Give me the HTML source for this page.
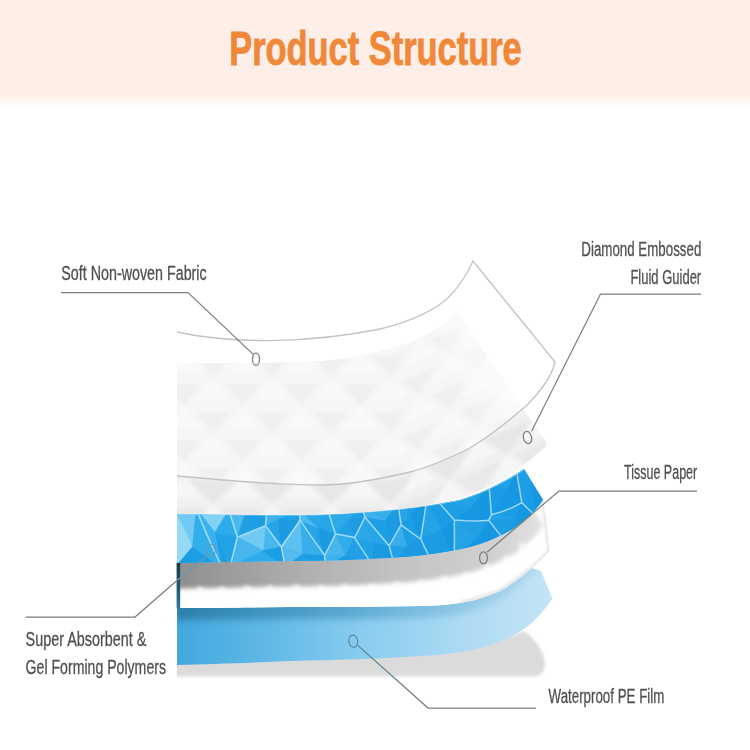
<!DOCTYPE html>
<html>
<head>
<meta charset="utf-8">
<title>Product Structure</title>
<style>
  html, body { margin: 0; padding: 0; background: #ffffff; }
  body { width: 750px; height: 750px; overflow: hidden; position: relative;
         font-family: "Liberation Sans", sans-serif; }
  svg { position: absolute; left: 0; top: 0; display: block; }
  text { font-family: "Liberation Sans", sans-serif; }
</style>
</head>
<body>
<svg width="750" height="750" viewBox="0 0 750 750">
  <defs>
    <linearGradient id="banner" x1="0" y1="0" x2="0" y2="1">
      <stop offset="0" stop-color="#fdefe7"/>
      <stop offset="0.875" stop-color="#fdefe7"/>
      <stop offset="0.93" stop-color="#fef6f1"/>
      <stop offset="1" stop-color="#ffffff"/>
    </linearGradient>
    <filter id="blur2" x="-10%" y="-40%" width="120%" height="180%">
      <feGaussianBlur stdDeviation="2"/>
    </filter>
    <filter id="blur1" x="-10%" y="-40%" width="120%" height="180%">
      <feGaussianBlur stdDeviation="1"/>
    </filter>
    <filter id="blur05" x="-5%" y="-10%" width="110%" height="120%">
      <feGaussianBlur stdDeviation="0.5"/>
    </filter>
    <filter id="blur15" x="-5%" y="-5%" width="110%" height="110%">
      <feGaussianBlur stdDeviation="1.6"/>
    </filter>
    <filter id="blur07" x="-5%" y="-20%" width="110%" height="140%">
      <feGaussianBlur stdDeviation="0.7"/>
    </filter>
    <filter id="blur4" x="-10%" y="-60%" width="120%" height="220%">
      <feGaussianBlur stdDeviation="3.5"/>
    </filter>

    <!-- PE film gradient (left saturated -> right pale) -->
    <linearGradient id="pe" gradientUnits="userSpaceOnUse" x1="177" y1="0" x2="552" y2="0">
      <stop offset="0" stop-color="#42a8de"/>
      <stop offset="0.25" stop-color="#62b9e7"/>
      <stop offset="0.5" stop-color="#8acdef"/>
      <stop offset="0.75" stop-color="#abdaf3"/>
      <stop offset="1" stop-color="#c5e4f6"/>
    </linearGradient>
    <!-- tissue shadow strength left -> right -->
    <linearGradient id="tsh" gradientUnits="userSpaceOnUse" x1="177" y1="0" x2="545" y2="0">
      <stop offset="0" stop-color="#8e8e8e"/>
      <stop offset="0.12" stop-color="#9a9a9a"/>
      <stop offset="0.35" stop-color="#b0b0b0"/>
      <stop offset="0.6" stop-color="#c3c3c3"/>
      <stop offset="0.85" stop-color="#d0d0d0"/>
      <stop offset="1" stop-color="#e2e2e2"/>
    </linearGradient>
    <linearGradient id="pesh" gradientUnits="userSpaceOnUse" x1="177" y1="0" x2="545" y2="0">
      <stop offset="0" stop-color="#236f98" stop-opacity="0.75"/>
      <stop offset="0.5" stop-color="#3b8fbd" stop-opacity="0.55"/>
      <stop offset="1" stop-color="#7fb8d8" stop-opacity="0.25"/>
    </linearGradient>

    <linearGradient id="s2fade" gradientUnits="userSpaceOnUse" x1="455" y1="400" x2="535" y2="345">
      <stop offset="0" stop-color="#ffffff" stop-opacity="0"/>
      <stop offset="0.6" stop-color="#ffffff" stop-opacity="0.6"/>
      <stop offset="1" stop-color="#ffffff" stop-opacity="0.85"/>
    </linearGradient>
    <linearGradient id="edge" x1="0" y1="0" x2="0" y2="1">
      <stop offset="0" stop-color="#143844"/>
      <stop offset="0.5" stop-color="#1f566c"/>
      <stop offset="1" stop-color="#2c7c9e"/>
    </linearGradient>
    <!-- diamond emboss pattern -->
    <pattern id="dia" x="183.5" y="378" width="59" height="56" patternUnits="userSpaceOnUse">
      <rect width="59" height="56" fill="#f6f6f6"/>
      <path d="M29.5,56 L12,34 L47,34 Z" fill="#f0f0f0"/>
      <path d="M0,28 L-17.5,6 L17.5,6 Z M59,28 L41.5,6 L76.5,6 Z" fill="#f0f0f0"/>
      <path d="M29.5,0 L12,22 L47,22 Z" fill="#f9f9f9"/>
      <path d="M0,28 L-17.5,50 L17.5,50 Z M59,28 L41.5,50 L76.5,50 Z" fill="#f9f9f9"/>
    </pattern>
    <pattern id="dia2" x="183.5" y="392" width="59" height="56" patternUnits="userSpaceOnUse">
      <rect width="59" height="56" fill="#f0f0f0"/>
      <path d="M29.5,56 L6,32 L53,32 Z" fill="#e7e7e7"/>
      <path d="M0,28 L-23.5,4 L23.5,4 Z M59,28 L35.5,4 L82.5,4 Z" fill="#e9e9e9"/>
      <path d="M29.5,0 L12,22 L47,22 Z" fill="#f6f6f6"/>
      <path d="M0,28 L-17.5,50 L17.5,50 Z M59,28 L41.5,50 L76.5,50 Z" fill="#f6f6f6"/>
    </pattern>

    <!-- shapes -->
    <path id="sheet1" d="M177,332 C195,336 225,340 260,340.5 C300,341 345,336 380,329 C405,323 428,313 442,303 C456,292 466,276 473,261 L555,362 C552,376 540,392 526,406 C510,420 490,436 470,448 C450,458 430,467 410,472 C385,478 350,485 320,485 C280,485 220,480 177,476 Z"/>
    <path id="sheet2" d="M177,363 C220,363.5 265,363.5 300,362 C325,361 340,359.5 355,357 C366,355 375,353 383,350.5 C393,347.5 403,345.5 411,342.5 C422,338 432,332 443,325 C449,320 453,316 456,311 L545,441 Q548,445 544,448 C537,454 530,460 520,468 C505,479 485,489 460,498 C440,504 420,507 400,509 C370,512 330,515 290,515 C250,515 210,514 177,514 Z"/>
    <path id="gel" d="M177,514 C210,514 250,515 290,515 C330,515 370,512 400,509 C420,507 440,504 460,500 C480,494 505,482 524,469 L543,500 C536,510 528,518 520,524 C508,533 492,540 480,544 C462,550 440,553 420,555.5 C395,558 340,561 290,561 C250,561.5 210,562.5 177,563 Z"/>
    <path id="tissue" d="M180,563 C210,562.5 250,561.5 290,561 C340,561 395,558 420,555.5 C440,553 462,550 480,544 C492,540 508,533 520,524 C528,518 536,510 543,501 C546,515 548,535 549.5,551 C544,557 538,563 532,568 C524,575 512,584 500,591 C488,596 474,601 460,603 C447,605 433,606 420,606 C380,607 330,607 290,607 C250,607.5 210,608 180,608 Z"/>
    <path id="pefilm" d="M177,608 C210,608 250,607.5 290,607 C330,607 380,607 420,606 C433,606 447,605 460,603 C474,601 488,596 500,591 C512,584 524,575 532,568 L541,571 L552.5,599 C547,606 541,614 533,622 C525,629 515,635 506,639 C497,643 488,646 480,648 C470,651 462,652 453,653 C440,655 432,655.5 420,656 C380,659 330,660 290,661 C250,663 210,664 177,665 Z"/>
    <clipPath id="cGround"><rect x="176.8" y="600" width="400" height="100"/></clipPath>
    <clipPath id="cGel"><use href="#gel"/></clipPath>
    <clipPath id="cTissue"><use href="#tissue"/></clipPath>
    <clipPath id="cPe"><use href="#pefilm"/></clipPath>
    <clipPath id="cS2"><use href="#sheet2"/></clipPath>
    <clipPath id="cS1"><use href="#sheet1"/></clipPath>
    
  </defs>

  <!-- header banner -->
  <rect x="0" y="0" width="750" height="108" fill="url(#banner)"/>
  <text x="229.2" y="65.4" font-size="48" font-weight="bold" fill="#f0883a" stroke="#f0883a" stroke-width="0.9" textLength="292.5" lengthAdjust="spacingAndGlyphs">Product Structure</text>

  <!-- ground shadow -->
  <g clip-path="url(#cGround)"><path d="M170,660 L420,652 C460,650 500,640 524,631 C536,640 545,652 545,664 C545,672 540,676.5 533,676.5 L170,676.5 Z" fill="#dbdbdb" filter="url(#blur15)"/></g>

  <!-- PE film -->
  <use href="#pefilm" fill="url(#pe)"/>
  <g clip-path="url(#cPe)">
    <!-- shadow of tissue on film: tissue shape shifted down -->
    <use href="#tissue" transform="translate(-6,12)" fill="url(#pesh)" filter="url(#blur4)"/>
    <!-- light sheen along bottom -->
  </g>

  <!-- tissue -->
  <use href="#tissue" fill="#ffffff" filter="url(#blur05)"/>
  <g clip-path="url(#cTissue)">
    <!-- faint edge shading so the white sheet reads against the white page -->
    <path d="M543,501 C546,515 548,535 549.5,551 C544,557 538,563 532,568 C524,575 512,584 500,591 C488,596 474,601 460,603" fill="none" stroke="#e2e2e2" stroke-width="4" filter="url(#blur15)"/>
    <g filter="url(#blur2)">
      <use href="#gel" transform="translate(0,25.5)" fill="url(#tsh)"/>
      <use href="#gel" transform="translate(0,0)" fill="url(#tsh)"/>
    </g>
    <!-- fluffy lower boundary of the shadow -->
    <g fill="#ffffff" fill-opacity="0.5" filter="url(#blur15)">
      <circle cx="200" cy="590" r="4"/><circle cx="222" cy="589.5" r="3.5"/><circle cx="247" cy="589.5" r="4.5"/><circle cx="270" cy="588.5" r="3.5"/>
      <circle cx="296" cy="588.5" r="4.5"/><circle cx="321" cy="588" r="3.5"/><circle cx="345" cy="588" r="4.5"/><circle cx="372" cy="587" r="3.5"/>
      <circle cx="397" cy="585.5" r="4.5"/><circle cx="421" cy="583" r="3.5"/><circle cx="444" cy="580" r="4.5"/><circle cx="466" cy="575" r="3.5"/>
      <circle cx="487" cy="568" r="4.5"/><circle cx="506" cy="558" r="3.5"/><circle cx="522" cy="546" r="4"/>
    </g>
  </g>
  <!-- dark left edge -->
  <rect x="176.6" y="563" width="3.6" height="45.5" fill="url(#edge)"/>

  <!-- gel -->
  <use href="#gel" fill="#1e9de4"/>
  <g clip-path="url(#cGel)">
    <g filter="url(#blur07)">
      <path d="M192.7,546.7 L196.2,508.7 L173.8,508.1Z" fill="#70caf3" stroke="#70caf3" stroke-width="0.6"/>
      <path d="M192.7,546.7 L173.8,508.1 L173.8,568.9Z" fill="#96daf8" stroke="#96daf8" stroke-width="0.6"/>
      <path d="M192.7,546.7 L173.8,568.9 L222.1,567.8Z" fill="#1f9ee4" stroke="#1f9ee4" stroke-width="0.6"/>
      <path d="M192.7,546.7 L222.1,567.8 L196.2,508.7Z" fill="#32afeb" stroke="#32afeb" stroke-width="0.6"/>
      <path d="M214.6,532.1 L222.1,567.8 L229.7,567.6Z" fill="#1f9ee4" stroke="#1f9ee4" stroke-width="0.6"/>
      <path d="M214.6,532.1 L229.7,567.6 L237.3,537.1Z" fill="#24a3e6" stroke="#24a3e6" stroke-width="0.6"/>
      <path d="M214.6,532.1 L237.3,537.1 L228.6,509.2Z" fill="#2dabea" stroke="#2dabea" stroke-width="0.6"/>
      <path d="M214.6,532.1 L228.6,509.2 L196.2,508.7Z" fill="#84d2f6" stroke="#84d2f6" stroke-width="0.6"/>
      <path d="M214.6,532.1 L196.2,508.7 L222.1,567.8Z" fill="#38b2ed" stroke="#38b2ed" stroke-width="0.6"/>
      <path d="M263.1,550.7 L281.3,546.7 L265.6,525.6Z" fill="#46b7ee" stroke="#46b7ee" stroke-width="0.6"/>
      <path d="M263.1,550.7 L265.6,525.6 L237.3,537.1Z" fill="#72caf3" stroke="#72caf3" stroke-width="0.6"/>
      <path d="M263.1,550.7 L237.3,537.1 L229.7,567.6Z" fill="#45b7ee" stroke="#45b7ee" stroke-width="0.6"/>
      <path d="M263.1,550.7 L229.7,567.6 L285.0,566.6Z" fill="#2dabea" stroke="#2dabea" stroke-width="0.6"/>
      <path d="M263.1,550.7 L285.0,566.6 L281.3,546.7Z" fill="#1f9ee4" stroke="#1f9ee4" stroke-width="0.6"/>
      <path d="M243.9,515.4 L237.3,537.1 L265.6,525.6Z" fill="#209fe4" stroke="#209fe4" stroke-width="0.6"/>
      <path d="M243.9,515.4 L265.6,525.6 L266.7,509.4Z" fill="#1e9de4" stroke="#1e9de4" stroke-width="0.6"/>
      <path d="M243.9,515.4 L266.7,509.4 L228.6,509.2Z" fill="#47b7ee" stroke="#47b7ee" stroke-width="0.6"/>
      <path d="M243.9,515.4 L228.6,509.2 L237.3,537.1Z" fill="#4bb9ef" stroke="#4bb9ef" stroke-width="0.6"/>
      <path d="M278.2,518.8 L265.6,525.6 L281.3,546.7Z" fill="#25a4e7" stroke="#25a4e7" stroke-width="0.6"/>
      <path d="M278.2,518.8 L281.3,546.7 L300.1,520.2Z" fill="#1b9ae2" stroke="#1b9ae2" stroke-width="0.6"/>
      <path d="M278.2,518.8 L300.1,520.2 L299.0,509.4Z" fill="#23a2e6" stroke="#23a2e6" stroke-width="0.6"/>
      <path d="M278.2,518.8 L299.0,509.4 L266.7,509.4Z" fill="#3bb1ec" stroke="#3bb1ec" stroke-width="0.6"/>
      <path d="M278.2,518.8 L266.7,509.4 L265.6,525.6Z" fill="#40b3ed" stroke="#40b3ed" stroke-width="0.6"/>
      <path d="M302.0,553.8 L285.0,566.6 L325.3,566.2Z" fill="#209ee4" stroke="#209ee4" stroke-width="0.6"/>
      <path d="M302.0,553.8 L325.3,566.2 L324.7,555.3Z" fill="#1e9ce2" stroke="#1e9ce2" stroke-width="0.6"/>
      <path d="M302.0,553.8 L324.7,555.3 L300.1,520.2Z" fill="#37afeb" stroke="#37afeb" stroke-width="0.6"/>
      <path d="M302.0,553.8 L300.1,520.2 L281.3,546.7Z" fill="#5fc1f1" stroke="#5fc1f1" stroke-width="0.6"/>
      <path d="M302.0,553.8 L281.3,546.7 L285.0,566.6Z" fill="#52bbef" stroke="#52bbef" stroke-width="0.6"/>
      <path d="M348.6,519.4 L335.4,533.9 L354.6,537.6Z" fill="#22a1e6" stroke="#22a1e6" stroke-width="0.6"/>
      <path d="M348.6,519.4 L354.6,537.6 L364.9,517.0Z" fill="#1e9de3" stroke="#1e9de3" stroke-width="0.6"/>
      <path d="M348.6,519.4 L364.9,517.0 L362.1,507.2Z" fill="#21a0e5" stroke="#21a0e5" stroke-width="0.6"/>
      <path d="M348.6,519.4 L362.1,507.2 L327.2,508.7Z" fill="#2faae9" stroke="#2faae9" stroke-width="0.6"/>
      <path d="M348.6,519.4 L327.2,508.7 L335.4,533.9Z" fill="#2da9e9" stroke="#2da9e9" stroke-width="0.6"/>
      <path d="M345.3,555.9 L354.6,537.6 L335.4,533.9Z" fill="#33acea" stroke="#33acea" stroke-width="0.6"/>
      <path d="M345.3,555.9 L335.4,533.9 L324.7,555.3Z" fill="#49b6ed" stroke="#49b6ed" stroke-width="0.6"/>
      <path d="M345.3,555.9 L324.7,555.3 L325.3,566.2Z" fill="#3eb1ec" stroke="#3eb1ec" stroke-width="0.6"/>
      <path d="M345.3,555.9 L325.3,566.2 L372.6,565.6Z" fill="#1c9ae2" stroke="#1c9ae2" stroke-width="0.6"/>
      <path d="M345.3,555.9 L372.6,565.6 L354.6,537.6Z" fill="#21a0e5" stroke="#21a0e5" stroke-width="0.6"/>
      <path d="M316.8,527.4 L300.1,520.2 L324.7,555.3Z" fill="#27a6e8" stroke="#27a6e8" stroke-width="0.6"/>
      <path d="M316.8,527.4 L324.7,555.3 L335.4,533.9Z" fill="#1c9ae1" stroke="#1c9ae1" stroke-width="0.6"/>
      <path d="M316.8,527.4 L335.4,533.9 L327.2,508.7Z" fill="#26a5e8" stroke="#26a5e8" stroke-width="0.6"/>
      <path d="M316.8,527.4 L327.2,508.7 L299.0,509.4Z" fill="#2aa9e9" stroke="#2aa9e9" stroke-width="0.6"/>
      <path d="M316.8,527.4 L299.0,509.4 L300.1,520.2Z" fill="#50baef" stroke="#50baef" stroke-width="0.6"/>
      <path d="M373.2,542.0 L354.6,537.6 L372.6,565.6Z" fill="#22a3e6" stroke="#22a3e6" stroke-width="0.6"/>
      <path d="M373.2,542.0 L372.6,565.6 L394.0,564.3Z" fill="#1c9be2" stroke="#1c9be2" stroke-width="0.6"/>
      <path d="M373.2,542.0 L394.0,564.3 L389.1,545.7Z" fill="#1b9ae1" stroke="#1b9ae1" stroke-width="0.6"/>
      <path d="M373.2,542.0 L389.1,545.7 L364.9,517.0Z" fill="#26a6e8" stroke="#26a6e8" stroke-width="0.6"/>
      <path d="M373.2,542.0 L364.9,517.0 L354.6,537.6Z" fill="#2ba8e8" stroke="#2ba8e8" stroke-width="0.6"/>
      <path d="M469.5,509.0 L454.3,519.9 L488.7,520.2Z" fill="#1797e1" stroke="#1797e1" stroke-width="0.6"/>
      <path d="M469.5,509.0 L488.7,520.2 L491.3,514.8Z" fill="#1898e1" stroke="#1898e1" stroke-width="0.6"/>
      <path d="M469.5,509.0 L491.3,514.8 L488.8,483.3Z" fill="#1797e1" stroke="#1797e1" stroke-width="0.6"/>
      <path d="M469.5,509.0 L488.8,483.3 L436.0,498.8Z" fill="#22a1e6" stroke="#22a1e6" stroke-width="0.6"/>
      <path d="M469.5,509.0 L436.0,498.8 L454.3,519.9Z" fill="#1d9ee5" stroke="#1d9ee5" stroke-width="0.6"/>
      <path d="M406.7,547.2 L420.7,539.0 L401.0,524.8Z" fill="#1e9ee4" stroke="#1e9ee4" stroke-width="0.6"/>
      <path d="M406.7,547.2 L401.0,524.8 L389.1,545.7Z" fill="#38adea" stroke="#38adea" stroke-width="0.6"/>
      <path d="M406.7,547.2 L389.1,545.7 L394.0,564.3Z" fill="#21a2e6" stroke="#21a2e6" stroke-width="0.6"/>
      <path d="M406.7,547.2 L394.0,564.3 L430.9,560.4Z" fill="#1c9be3" stroke="#1c9be3" stroke-width="0.6"/>
      <path d="M406.7,547.2 L430.9,560.4 L420.7,539.0Z" fill="#1b99e2" stroke="#1b99e2" stroke-width="0.6"/>
      <path d="M384.9,520.3 L364.9,517.0 L389.1,545.7Z" fill="#1f9fe5" stroke="#1f9fe5" stroke-width="0.6"/>
      <path d="M384.9,520.3 L389.1,545.7 L401.0,524.8Z" fill="#1c9ce3" stroke="#1c9ce3" stroke-width="0.6"/>
      <path d="M384.9,520.3 L401.0,524.8 L397.9,503.3Z" fill="#1b9ae2" stroke="#1b9ae2" stroke-width="0.6"/>
      <path d="M384.9,520.3 L397.9,503.3 L362.1,507.2Z" fill="#39aeeb" stroke="#39aeeb" stroke-width="0.6"/>
      <path d="M384.9,520.3 L362.1,507.2 L364.9,517.0Z" fill="#41b1ec" stroke="#41b1ec" stroke-width="0.6"/>
      <path d="M476.0,539.7 L488.7,520.2 L454.3,519.9Z" fill="#20a0e6" stroke="#20a0e6" stroke-width="0.6"/>
      <path d="M476.0,539.7 L454.3,519.9 L454.3,556.2Z" fill="#26a3e7" stroke="#26a3e7" stroke-width="0.6"/>
      <path d="M476.0,539.7 L454.3,556.2 L504.3,540.2Z" fill="#1797e1" stroke="#1797e1" stroke-width="0.6"/>
      <path d="M476.0,539.7 L504.3,540.2 L488.7,520.2Z" fill="#1797e1" stroke="#1797e1" stroke-width="0.6"/>
      <path d="M410.4,514.2 L401.0,524.8 L420.7,539.0Z" fill="#1c9ee4" stroke="#1c9ee4" stroke-width="0.6"/>
      <path d="M410.4,514.2 L420.7,539.0 L426.4,500.1Z" fill="#1897e0" stroke="#1897e0" stroke-width="0.6"/>
      <path d="M410.4,514.2 L426.4,500.1 L397.9,503.3Z" fill="#1d9fe5" stroke="#1d9fe5" stroke-width="0.6"/>
      <path d="M410.4,514.2 L397.9,503.3 L401.0,524.8Z" fill="#27a5e8" stroke="#27a5e8" stroke-width="0.6"/>
      <path d="M441.7,530.2 L430.9,560.4 L454.3,556.2Z" fill="#1a9ae3" stroke="#1a9ae3" stroke-width="0.6"/>
      <path d="M441.7,530.2 L454.3,556.2 L454.3,519.9Z" fill="#1796e0" stroke="#1796e0" stroke-width="0.6"/>
      <path d="M441.7,530.2 L454.3,519.9 L436.0,498.8Z" fill="#1c9ce4" stroke="#1c9ce4" stroke-width="0.6"/>
      <path d="M441.7,530.2 L436.0,498.8 L426.4,500.1Z" fill="#1d9de5" stroke="#1d9de5" stroke-width="0.6"/>
      <path d="M441.7,530.2 L426.4,500.1 L420.7,539.0Z" fill="#25a2e7" stroke="#25a2e7" stroke-width="0.6"/>
      <path d="M441.7,530.2 L420.7,539.0 L430.9,560.4Z" fill="#1b9ce3" stroke="#1b9ce3" stroke-width="0.6"/>
      <path d="M516.1,518.5 L521.8,502.6 L491.3,514.8Z" fill="#1c9ee5" stroke="#1c9ee5" stroke-width="0.6"/>
      <path d="M516.1,518.5 L491.3,514.8 L488.7,520.2Z" fill="#25a2e7" stroke="#25a2e7" stroke-width="0.6"/>
      <path d="M516.1,518.5 L488.7,520.2 L504.3,540.2Z" fill="#1b9de5" stroke="#1b9de5" stroke-width="0.6"/>
      <path d="M516.1,518.5 L504.3,540.2 L535.8,516.1Z" fill="#1898e2" stroke="#1898e2" stroke-width="0.6"/>
      <path d="M516.1,518.5 L535.8,516.1 L521.8,502.6Z" fill="#1797e1" stroke="#1797e1" stroke-width="0.6"/>
      <path d="M532.0,486.0 L521.8,502.6 L535.8,516.1Z" fill="#1a9ce4" stroke="#1a9ce4" stroke-width="0.6"/>
      <path d="M532.0,486.0 L535.8,516.1 L547.6,502.1Z" fill="#1797e1" stroke="#1797e1" stroke-width="0.6"/>
      <path d="M532.0,486.0 L547.6,502.1 L524.1,463.7Z" fill="#199ae3" stroke="#199ae3" stroke-width="0.6"/>
      <path d="M532.0,486.0 L524.1,463.7 L516.3,468.8Z" fill="#22a1e6" stroke="#22a1e6" stroke-width="0.6"/>
      <path d="M532.0,486.0 L516.3,468.8 L521.8,502.6Z" fill="#1e9fe6" stroke="#1e9fe6" stroke-width="0.6"/>
      <path d="M507.2,489.0 L491.3,514.8 L521.8,502.6Z" fill="#1999e2" stroke="#1999e2" stroke-width="0.6"/>
      <path d="M507.2,489.0 L521.8,502.6 L516.3,468.8Z" fill="#1695e0" stroke="#1695e0" stroke-width="0.6"/>
      <path d="M507.2,489.0 L516.3,468.8 L488.8,483.3Z" fill="#24a2e7" stroke="#24a2e7" stroke-width="0.6"/>
      <path d="M507.2,489.0 L488.8,483.3 L491.3,514.8Z" fill="#1b9ce5" stroke="#1b9ce5" stroke-width="0.6"/>
      <g stroke="#d2effc" stroke-width="1.5" stroke-opacity="0.7" stroke-linejoin="round">
        <path d="M196.2,508.7 L188.8,508.5 L181.5,508.3 L173.8,508.1 L173.8,528.4 L173.8,548.6 L173.8,568.9 L190.0,568.6 L206.0,568.2 L222.1,567.8 L213.0,548.3 L204.3,528.6Z M222.1,567.8 L224.6,567.8 L227.2,567.7 L229.7,567.6 L232.4,557.4 L234.9,547.3 L237.3,537.1 L234.4,527.8 L231.5,518.5 L228.6,509.2 L217.8,509.1 L207.0,508.9 L196.2,508.7 L204.3,528.6 L213.0,548.3Z M281.3,546.7 L276.0,539.7 L270.8,532.7 L265.6,525.6 L256.3,529.4 L246.9,533.3 L237.3,537.1 L234.9,547.3 L232.4,557.4 L229.7,567.6 L248.1,567.3 L266.6,566.9 L285.0,566.6 L283.8,560.0 L282.6,553.4Z M237.3,537.1 L246.9,533.3 L256.3,529.4 L265.6,525.6 L266.0,520.2 L266.4,514.8 L266.7,509.4 L254.0,509.4 L241.3,509.3 L228.6,509.2 L231.5,518.5 L234.4,527.8Z M265.6,525.6 L270.8,532.7 L276.0,539.7 L281.3,546.7 L287.8,537.8 L294.1,529.0 L300.1,520.2 L299.7,516.6 L299.3,513.0 L299.0,509.4 L288.2,509.5 L277.5,509.5 L266.7,509.4 L266.4,514.8 L266.0,520.2Z M285.0,566.6 L298.4,566.4 L311.8,566.3 L325.3,566.2 L325.1,562.5 L324.9,558.9 L324.7,555.3 L316.3,543.6 L308.1,531.9 L300.1,520.2 L294.1,529.0 L287.8,537.8 L281.3,546.7 L282.6,553.4 L283.8,560.0Z M335.4,533.9 L341.8,535.1 L348.2,536.3 L354.6,537.6 L358.2,530.8 L361.6,523.9 L364.9,517.0 L364.0,513.7 L363.0,510.4 L362.1,507.2 L350.5,507.8 L338.8,508.3 L327.2,508.7 L329.9,517.1 L332.7,525.5Z M354.6,537.6 L348.2,536.3 L341.8,535.1 L335.4,533.9 L332.0,541.1 L328.4,548.2 L324.7,555.3 L324.9,558.9 L325.1,562.5 L325.3,566.2 L341.1,566.0 L356.9,565.9 L372.6,565.6 L366.5,556.2 L360.5,546.9Z M300.1,520.2 L308.1,531.9 L316.3,543.6 L324.7,555.3 L328.4,548.2 L332.0,541.1 L335.4,533.9 L332.7,525.5 L329.9,517.1 L327.2,508.7 L317.8,509.1 L308.4,509.3 L299.0,509.4 L299.3,513.0 L299.7,516.6Z M354.6,537.6 L360.5,546.9 L366.5,556.2 L372.6,565.6 L379.8,565.3 L386.9,564.9 L394.0,564.3 L392.4,558.1 L390.8,551.9 L389.1,545.7 L380.9,536.1 L372.8,526.6 L364.9,517.0 L361.6,523.9 L358.2,530.8Z M454.3,519.9 L465.9,520.8 L477.4,521.0 L488.7,520.2 L489.6,518.4 L490.5,516.6 L491.3,514.8 L490.6,504.2 L489.7,493.6 L488.8,483.3 L471.7,490.1 L454.1,495.6 L436.0,498.8 L442.0,505.9 L448.1,513.0Z M420.7,539.0 L414.0,534.3 L407.5,529.6 L401.0,524.8 L397.1,531.8 L393.2,538.8 L389.1,545.7 L390.8,551.9 L392.4,558.1 L394.0,564.3 L406.4,563.2 L418.6,562.0 L430.9,560.4 L427.5,553.2 L424.1,546.1Z M364.9,517.0 L372.8,526.6 L380.9,536.1 L389.1,545.7 L393.2,538.8 L397.1,531.8 L401.0,524.8 L400.0,517.6 L398.9,510.5 L397.9,503.3 L386.0,504.8 L374.0,506.1 L362.1,507.2 L363.0,510.4 L364.0,513.7Z M488.7,520.2 L477.4,521.0 L465.9,520.8 L454.3,519.9 L454.4,531.9 L454.4,544.0 L454.3,556.2 L471.4,552.3 L488.2,547.3 L504.3,540.2 L499.1,533.6 L493.9,527.0Z M401.0,524.8 L407.5,529.6 L414.0,534.3 L420.7,539.0 L422.8,525.9 L424.8,513.0 L426.4,500.1 L416.9,501.3 L407.4,502.3 L397.9,503.3 L398.9,510.5 L400.0,517.6Z M430.9,560.4 L438.7,559.1 L446.5,557.8 L454.3,556.2 L454.4,544.0 L454.4,531.9 L454.3,519.9 L448.1,513.0 L442.0,505.9 L436.0,498.8 L432.8,499.3 L429.6,499.7 L426.4,500.1 L424.8,513.0 L422.8,525.9 L420.7,539.0 L424.1,546.1 L427.5,553.2Z M521.8,502.6 L512.3,507.6 L502.1,511.6 L491.3,514.8 L490.5,516.6 L489.6,518.4 L488.7,520.2 L493.9,527.0 L499.1,533.6 L504.3,540.2 L516.0,533.5 L526.4,525.5 L535.8,516.1 L531.2,511.8 L526.5,507.3Z M521.8,502.6 L526.5,507.3 L531.2,511.8 L535.8,516.1 L539.8,511.4 L543.5,506.3 L547.6,502.1 L539.8,489.3 L531.9,476.5 L524.1,463.7 L521.5,465.4 L518.9,467.1 L516.3,468.8 L517.9,479.6 L519.8,490.9Z M491.3,514.8 L502.1,511.6 L512.3,507.6 L521.8,502.6 L519.8,490.9 L517.9,479.6 L516.3,468.8 L507.4,474.1 L498.2,479.0 L488.8,483.3 L489.7,493.6 L490.6,504.2Z" fill="none"/>
      </g>
    </g>
    <path d="M177,514 C210,514 250,515 290,515 C330,515 370,512 400,509 C420,507 440,504 460,500 C480,494 505,482 524,469" fill="none" stroke="#8fd6f8" stroke-width="1.6" stroke-opacity="0.8"/>
  </g>

  <!-- diamond layer -->
  <use href="#sheet2" fill="#f0f0f0"/>
  <g clip-path="url(#cS2)">
    <g filter="url(#blur15)">
      <rect x="150" y="300" width="245" height="240" fill="url(#dia2)"/>
      <g transform="translate(395,0) skewY(-24) translate(-395,0)"><rect x="395" y="300" width="200" height="300" fill="url(#dia2)"/></g>
    </g>
    <g clip-path="url(#cS1)">
      <rect x="150" y="250" width="450" height="300" fill="#f6f6f6"/>
      <g filter="url(#blur15)">
        <rect x="150" y="300" width="245" height="240" fill="url(#dia)"/>
        <g transform="translate(395,0) skewY(-24) translate(-395,0)"><rect x="395" y="300" width="200" height="300" fill="url(#dia)"/></g>
      </g>
      <rect x="440" y="290" width="120" height="170" fill="url(#s2fade)"/>
    </g>
  </g>

  <!-- top sheet -->
  <path d="M177,332 C195,336 225,340 260,340.5 C300,341 345,336 380,329 C405,323 428,313 442,303 C456,292 466,276 473,261 L555,362 C552,376 540,392 526,406 C510,420 490,436 470,448 C450,458 430,467 410,472 C385,478 350,485 320,485 C280,485 220,480 177,476" fill="none" stroke="#c2c2c2" stroke-width="1.3"/>

  <!-- leaders -->
  <g fill="none" stroke="#7e7e7e" stroke-width="1.25">
    <path d="M61,292.5 L188,292.5 L253.2,354.4"/>
    <ellipse cx="256" cy="359.3" rx="3.5" ry="6.2"/>
    <path d="M701,294 L600.5,294 L531.6,431.2"/>
    <ellipse cx="527.5" cy="437.5" rx="4.1" ry="6.2" transform="rotate(-12 527.5 437.5)"/>
    <path d="M697,491 L559,491 L487,552.2"/>
    <ellipse cx="483.5" cy="557.8" rx="4" ry="6"/>
    <path d="M25.5,617 L135,617 L177,580.5"/>
    <path d="M536,708 L428,708 L400,683"/>
  </g>
  <g fill="none" stroke="#5d7f93" stroke-width="1.2">
    <path d="M177,580.5 L207.3,555.2" stroke="#6e97ad"/>
    <ellipse cx="211.5" cy="550" rx="4.3" ry="6" transform="rotate(20 211.5 550)" stroke="#6a9db8"/>
    <path d="M400,683 L357.8,645.4"/>
    <ellipse cx="353.3" cy="641.3" rx="4.4" ry="6.2" transform="rotate(-10 353.3 641.3)" stroke="#5b89a5"/>
  </g>

  <!-- labels -->
  <g font-size="19.6" fill="#505050" stroke="#505050" stroke-width="0.3">
    <text x="61.3" y="280.4" textLength="145.4" lengthAdjust="spacingAndGlyphs">Soft Non-woven Fabric</text>
    <text x="581.3" y="256" textLength="120" lengthAdjust="spacingAndGlyphs">Diamond Embossed</text>
    <text x="630.4" y="283.7" textLength="70.8" lengthAdjust="spacingAndGlyphs">Fluid Guider</text>
    <text x="624" y="479.2" textLength="73.2" lengthAdjust="spacingAndGlyphs">Tissue Paper</text>
    <text x="25.6" y="646.4" textLength="120.7" lengthAdjust="spacingAndGlyphs">Super Absorbent &amp;</text>
    <text x="25.6" y="673.6" textLength="140.4" lengthAdjust="spacingAndGlyphs">Gel Forming Polymers</text>
    <text x="548.6" y="703.4" textLength="115.7" lengthAdjust="spacingAndGlyphs">Waterproof PE Film</text>
  </g>
</svg>
</body>
</html>
